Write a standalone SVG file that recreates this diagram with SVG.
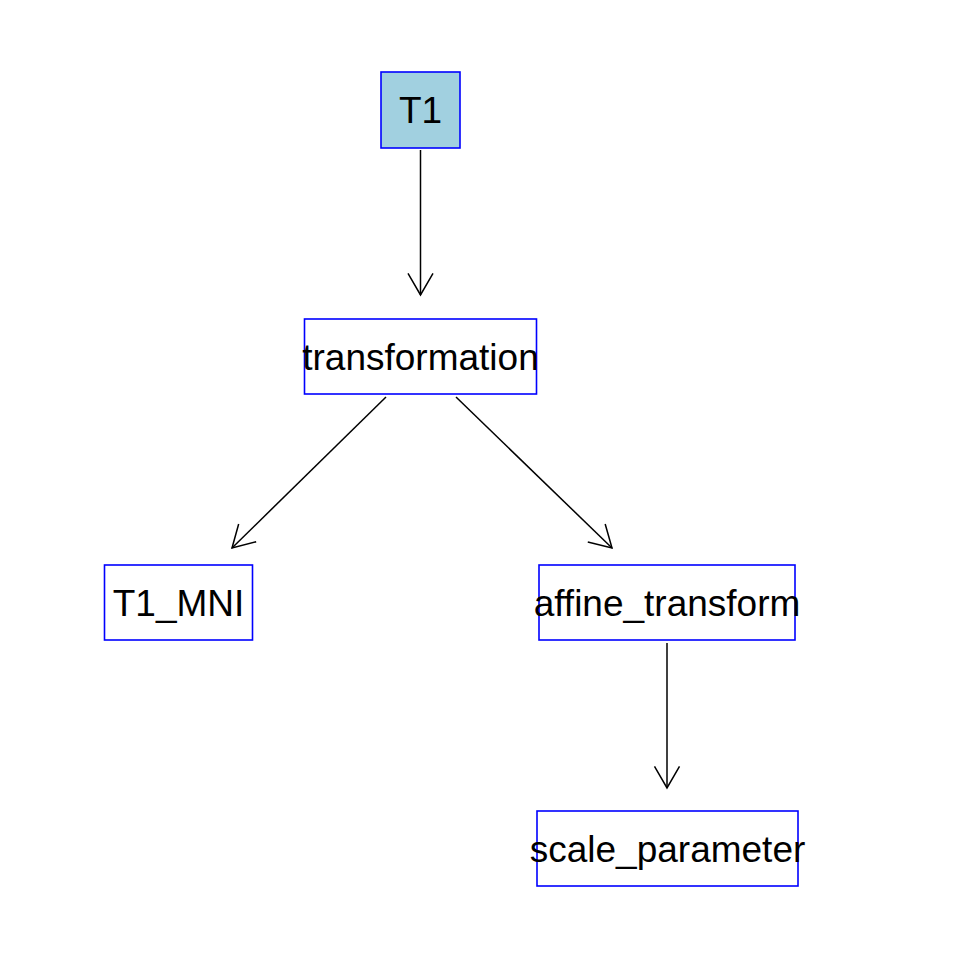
<svg xmlns="http://www.w3.org/2000/svg" width="960" height="960" viewBox="0 0 960 960">
<defs>
<style>
.box{fill:#ffffff;stroke:#0000ff;stroke-width:1.6}
.root{fill:#a1d0e0}
.lbl{font-family:"Liberation Sans",Arial,sans-serif;font-size:37px;fill:#000;text-anchor:middle}
.edge{stroke:#000;stroke-width:1.5;fill:none;marker-end:url(#arr)}
</style>
<marker id="arr" markerUnits="userSpaceOnUse" viewBox="-25 -15 30 30" markerWidth="30" markerHeight="30" refX="0" refY="0" orient="auto">
<path d="M-21.6,-12.5 L0,0 L-21.6,12.5" fill="none" stroke="#000" stroke-width="1.5"/>
</marker>
</defs>
<rect width="960" height="960" fill="#ffffff"/>
<g id="connectors">
<line class="edge" x1="420.5" y1="150" x2="420.5" y2="295"/>
<line class="edge" x1="386" y1="397" x2="232" y2="548"/>
<line class="edge" x1="456" y1="397" x2="612" y2="548"/>
<line class="edge" x1="667" y1="643" x2="667" y2="788"/>
</g>
<g id="T1">
<rect class="box root" x="381" y="72" width="79" height="76"/>
<text class="lbl" x="420.5" y="123">T1</text>
</g>
<g id="transformation">
<rect class="box" x="304.5" y="319" width="232" height="75"/>
<text class="lbl" x="420.5" y="369.5">transformation</text>
</g>
<g id="T1_MNI">
<rect class="box" x="104.5" y="565" width="148" height="75"/>
<text class="lbl" x="178.5" y="615.5">T1_MNI</text>
</g>
<g id="affine_transform">
<rect class="box" x="539" y="565" width="256" height="75"/>
<text class="lbl" x="667" y="615.5">affine_transform</text>
</g>
<g id="scale_parameter">
<rect class="box" x="537" y="811" width="261" height="75"/>
<text class="lbl" x="667.5" y="861.5">scale_parameter</text>
</g>
</svg>
